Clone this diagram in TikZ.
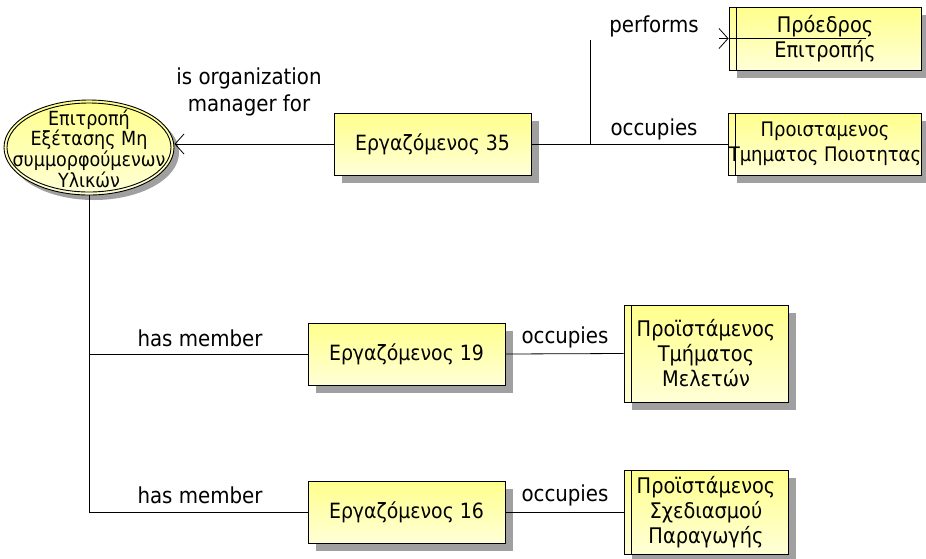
\documentclass[tikz,border=0pt]{standalone}
\usepackage{fontspec}
\setmainfont{DejaVu Sans Condensed}
\usetikzlibrary{arrows.meta,shadows,shapes.geometric}

\definecolor{boxtop}{RGB}{255,255,140}
\definecolor{boxbot}{RGB}{255,255,215}
\definecolor{shadowgray}{RGB}{160,160,160}

\tikzset{
  entity/.style={draw=black, line width=0.9pt, rectangle, inner sep=0pt,
    top color=boxtop, bottom color=boxbot, align=center,
    drop shadow={shadow xshift=8pt, shadow yshift=-8pt, fill=shadowgray, opacity=1}},
  person/.style={entity, minimum width=197pt, minimum height=62pt,
    font=\fontsize{21}{24}\selectfont},
  role/.style={entity, font=\fontsize{21.5}{25}\selectfont,
    path picture={\draw[line width=0.9pt]
      ([xshift=7pt]path picture bounding box.north west) --
      ([xshift=7pt]path picture bounding box.south west);}},
  org/.style={draw=black, line width=0.9pt, ellipse, inner sep=0pt,
    minimum width=170pt, minimum height=95pt,
    top color=boxtop, bottom color=boxbot,
    drop shadow={shadow xshift=5pt, shadow yshift=-5pt, fill=shadowgray, opacity=1},
    path picture={\draw[line width=0.9pt] (path picture bounding box.center)
      ellipse [x radius=82pt, y radius=44.5pt];}},
  orgtext/.style={inner sep=0pt, align=center, font=\fontsize{19.5}{18.5}\selectfont},
  lbl/.style={font=\fontsize{22}{27}\selectfont, inner sep=0pt, align=center},
  conn/.style={line width=0.8pt},
  barb/.style={-{Straight Barb[length=9pt,width=20pt,line width=0.8pt]}}
}

\begin{document}
\begin{tikzpicture}[x=1pt,y=-1pt]
  \useasboundingbox[fill=white] (0,0) rectangle (926,558);

  % committee
  \node[org] (com) at (89,147.5) {};
  \node[orgtext] (comtxt) at ([yshift=-1pt]com.center) {Επιτροπή\\Εξέτασης Μη\\συμμορφούμενων\\Υλικών};

  % employees
  \node[person] (e35) at (432.5,144) {Εργαζόμενος 35};
  \node[person] (e19) at (406.5,354) {Εργαζόμενος 19};
  \node[person] (e16) at (406.5,512) {Εργαζόμενος 16};

  % roles and positions
  \node[role, minimum width=192pt, minimum height=63pt] (pres) at (825,38.5) {Πρόεδρος\\Επιτροπής};
  \node[role, minimum width=192pt, minimum height=62pt, font=\fontsize{20}{25}\selectfont] (qual) at (825,144) {Προισταμενος\\Τμηματος Ποιοτητας};
  \node[role, minimum width=164pt, minimum height=97pt] (stud) at (706,353.5) {Προϊστάμενος\\Τμήματος\\Μελετών};
  \node[role, minimum width=164pt, minimum height=84pt] (plan) at (706,512) {Προϊστάμενος\\Σχεδιασμού\\Παραγωγής};

  % helper points
  \coordinate (j1) at (590,144);
  \coordinate (j2) at (590,40);
  \coordinate (pa) at (719,38.5);
  \coordinate (pb) at (866,38.5);
  \coordinate (t0) at (89,195);
  \coordinate (t1) at (89,354);
  \coordinate (t2) at (89,512);

  % connectors
  \draw[conn, barb] (e35.west) -- (com.east |- e35.west);
  \draw[conn] (e35.east) -- (qual.west);
  \draw[conn] (j1) -- (j2);
  \draw[conn, barb] (pa) -- (pres.west);
  \draw[conn] (pres.west) -- (pb);
  \draw[conn] (t0) -- (t2);
  \draw[conn] (t1) -- (e19.west);
  \draw[conn] (t2) -- (e16.west);
  \draw[conn] (e19.east) -- (stud.west);
  \draw[conn] (e16.east) -- (plan.west);

  % connector labels
  \node[lbl] (l1) at (249,91.5) {is organization\\manager for};
  \node[lbl] (l2) at (654,26) {performs};
  \node[lbl] (l3) at (654,129) {occupies};
  \node[lbl] (l4) at (200,338) {has member};
  \node[lbl] (l5) at (565,337) {occupies};
  \node[lbl] (l6) at (200,495) {has member};
  \node[lbl] (l7) at (565,495) {occupies};
\end{tikzpicture}
\end{document}
